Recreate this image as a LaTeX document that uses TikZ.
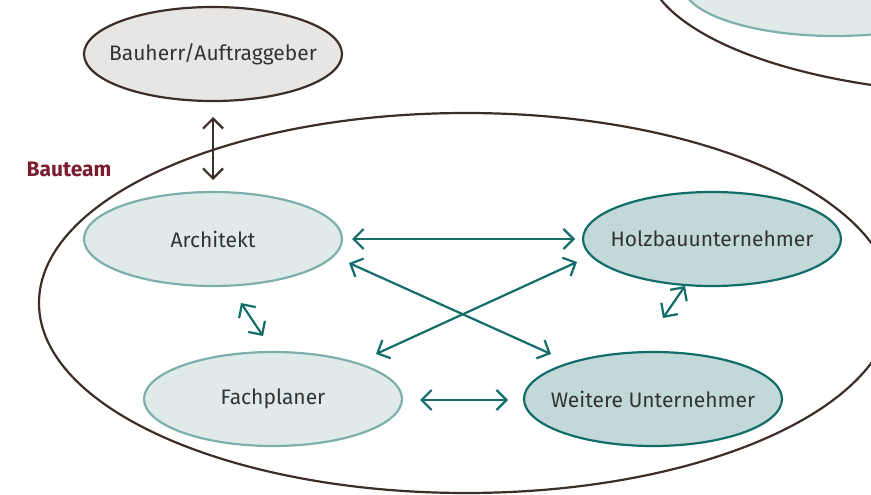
\documentclass[tikz,border=0pt]{standalone}
\usepackage{fontspec}
\setmainfont{Fira Sans}
\usetikzlibrary{shapes.geometric,arrows.meta,calc}
\definecolor{brn}{HTML}{3B2D28}
\definecolor{tealD}{HTML}{126D69}
\definecolor{tealL}{HTML}{7DAFAD}
\definecolor{fillL}{HTML}{E0EAEA}
\definecolor{fillD}{HTML}{C3D8D8}
\definecolor{fillG}{HTML}{E8E6E4}
\definecolor{txt}{HTML}{333333}
\definecolor{bred}{HTML}{7A1E2E}
\newcommand{\zb}[1]{\makebox[0pt]{#1}}
\tikzset{
  role/.style={ellipse, minimum width=258pt, minimum height=94pt, inner sep=0pt, line width=2.2pt, text=txt, font=\fontsize{21}{24}\selectfont},
  light/.style={role, draw=tealL, fill=fillL},
  dark/.style={role, draw=tealD, fill=fillD},
  conn/.style={draw=tealD, line width=2.2pt, {Straight Barb[length=10pt,width=20pt]}-{Straight Barb[length=10pt,width=20pt]}},
  bconn/.style={conn, draw=brn}
}
\begin{document}
\begin{tikzpicture}[x=1pt,y=-1pt]
\useasboundingbox (0,0) rectangle (871,495);
\begin{scope}
\clip (0,0) rectangle (871,495);
\node[ellipse, draw=brn, line width=2.2pt, minimum width=710pt, minimum height=268pt, inner sep=0pt] (other) at (1000,-40) {};
\node[ellipse, draw=tealL, fill=fillL, line width=2.2pt, minimum width=304pt, minimum height=102pt, inner sep=0pt] (otherrole) at (835,-15) {};
\node[ellipse, draw=brn, line width=2.2pt, minimum width=854pt, minimum height=380pt, inner sep=0pt] (team) at (466,303) {};
\end{scope}
\node[role, draw=brn, fill=fillG] (bau) at (213,54) {\zb{Bauherr/Auftraggeber}};
\node[font=\bfseries\fontsize{21}{24}\selectfont, text=bred] (lbl) at (69,169) {Bauteam};
\node[light] (arch) at (213,239) {\zb{Architekt}};
\node[dark] (holz) at (712,239) {\zb{Holzbauunternehmer}};
\node[light] (fach) at (273,399) {\zb{Fachplaner}};
\node[dark] (weit) at (653,399) {\zb{Weitere Unternehmer}};
\draw[bconn] ($(bau.center)+(0,63)$) -- ($(arch.center)+(0,-59)$);
\draw[conn] ($(arch.center)+(139,0)$) -- ($(holz.center)+(-137,0)$);
\draw[conn] ($(arch.center)+(136,24)$) -- ($(weit.center)+(-102,-45)$);
\draw[conn] ($(fach.center)+(103,-45)$) -- ($(holz.center)+(-135,23)$);
\draw[conn] ($(arch.center)+(28,64)$) -- ($(fach.center)+(-10,-63)$);
\draw[conn] ($(holz.center)+(-27,47)$) -- ($(weit.center)+(10,-81)$);
\draw[conn] ($(fach.center)+(147,1)$) -- ($(weit.center)+(-145,1)$);
\end{tikzpicture}
\end{document}
